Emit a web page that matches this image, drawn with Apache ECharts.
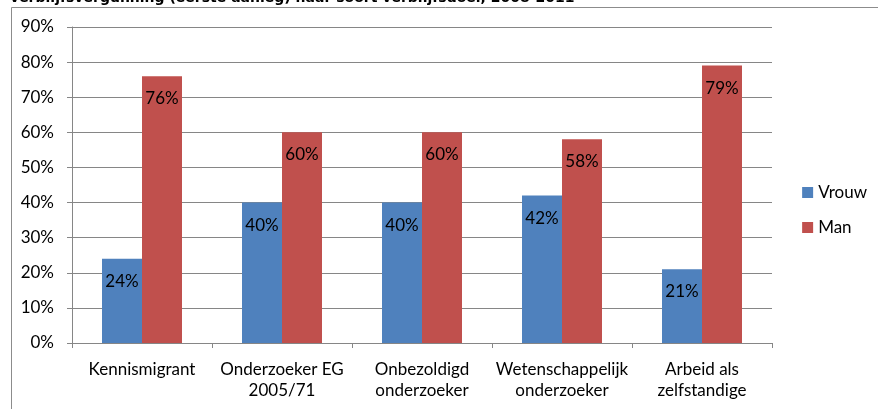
<!DOCTYPE html>
<html><head><meta charset="utf-8">
<script src="https://cdn.jsdelivr.net/npm/echarts@6/dist/echarts.min.js"></script>
<style>html,body{margin:0;padding:0;background:#fff}#c{width:878px;height:409px}</style>
</head><body><div id="c"></div>
<script>
const categories = ['Kennismigrant', 'Onderzoeker EG\n2005/71', 'Onbezoldigd\nonderzoeker', 'Wetenschappelijk\nonderzoeker', 'Arbeid als\nzelfstandige'];
const vrouw = [24, 40, 40, 42, 21];
const man = [76, 60, 60, 58, 79];
const yTicks = { min: 0, max: 90, interval: 10 };
const titleText = 'verblijfsvergunning (eerste aanleg) naar soort verblijfsdoel, 2008-2011 \u00b9';

const font = 'Lato, "Liberation Sans", sans-serif';
const fs = 17;
const chart = echarts.init(document.getElementById('c'), null, {renderer: 'canvas'});
chart.setOption({
  animation: false,
  textStyle: { fontFamily: font },
  graphic: [
    { type: 'rect', shape: { x: 11.5, y: 7.5, width: 1000, height: 500 }, style: { fill: 'none', stroke: '#8c8c8c', lineWidth: 1 }, z: 0 },
    { type: 'text', x: 10, y: 5, style: { text: titleText, font: 'bold 14px "DejaVu Sans"', fill: '#000', textVerticalAlign: 'bottom' } }
  ],
  grid: { left: 72, right: 106, top: 27, bottom: 66, containLabel: false },
  legend: {
    orient: 'vertical', right: 11, top: 184, padding: 0, itemWidth: 11, itemHeight: 11, itemGap: 18,
    textStyle: { fontSize: fs, color: '#000', fontFamily: font },
    icon: 'rect', data: ['Vrouw', 'Man']
  },
  xAxis: {
    type: 'category', data: categories,
    axisLine: { lineStyle: { color: '#868686', width: 1 } },
    axisTick: { show: true, length: 5, lineStyle: { color: '#868686' } },
    axisLabel: { color: '#000', fontSize: fs, margin: 16, lineHeight: 21, interval: 0, fontFamily: font }
  },
  yAxis: {
    type: 'value', min: yTicks.min, max: yTicks.max, interval: yTicks.interval,
    axisLine: { show: true, lineStyle: { color: '#868686' } },
    axisTick: { show: true, length: 5, lineStyle: { color: '#868686' } },
    axisLabel: { formatter: '{value}%', color: '#000', fontSize: fs, margin: 18, fontFamily: font },
    splitLine: { lineStyle: { color: '#868686', width: 1 } }
  },
  series: [
    { name: 'Vrouw', type: 'bar', data: vrouw, barWidth: 40, barGap: '0%', itemStyle: { color: '#4F81BD' },
      label: { show: true, position: 'insideTop', distance: 14, formatter: '{c}%', color: '#000', fontSize: fs, fontFamily: font } },
    { name: 'Man', type: 'bar', data: man, barWidth: 40, barGap: '0%', itemStyle: { color: '#C0504D' },
      label: { show: true, position: 'insideTop', distance: 14, formatter: '{c}%', color: '#000', fontSize: fs, fontFamily: font } }
  ]
});
</script></body></html>
